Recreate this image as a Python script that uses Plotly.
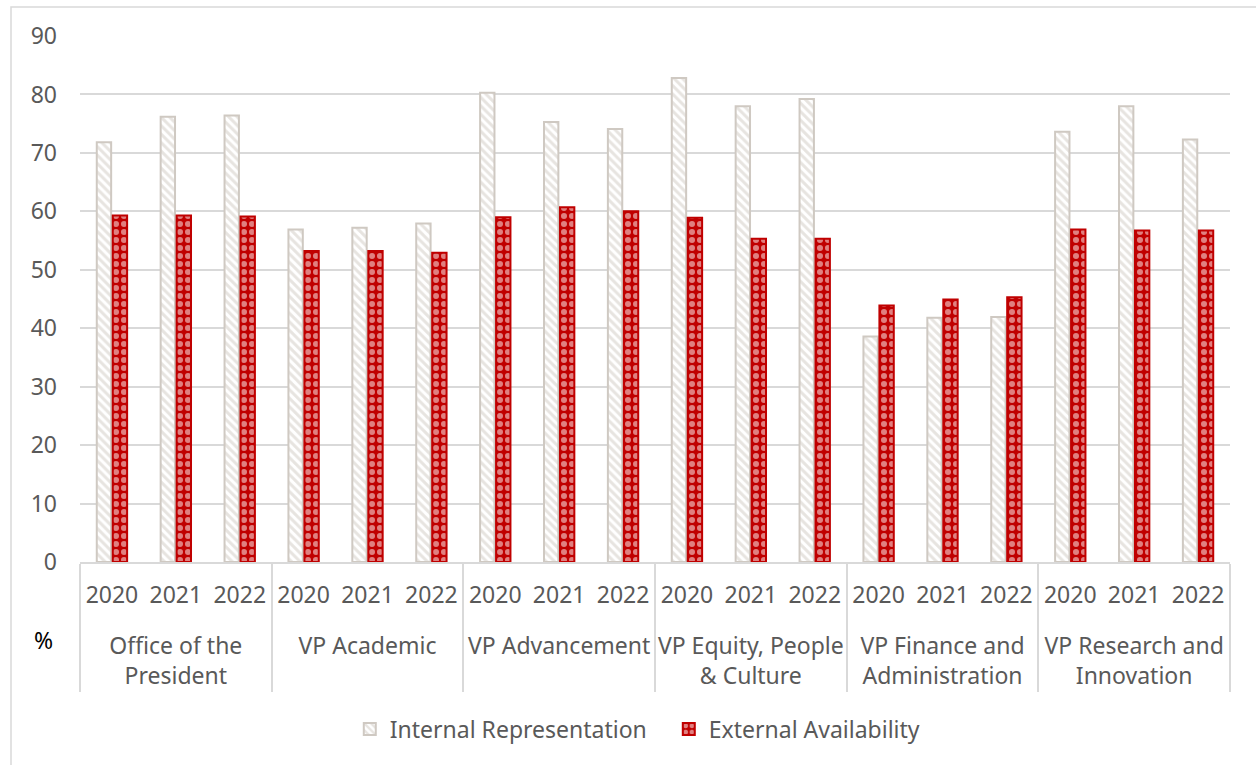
import plotly.graph_objects as go

# Departments (two-line labels where the name wraps) and reporting years
departments = [
    "Office of the<br>President",
    "VP Academic",
    "VP Advancement",
    "VP Equity, People<br>& Culture",
    "VP Finance and<br>Administration",
    "VP Research and<br>Innovation",
]
years = ["2020", "2021", "2022"]

# Percentages per department, in year order
internal_representation = [
    71.8, 76.2, 76.4,
    56.9, 57.2, 57.9,
    80.3, 75.3, 74.1,
    82.8, 78.0, 79.2,
    38.6, 41.8, 41.9,
    73.6, 78.0, 72.3,
]
external_availability = [
    59.3, 59.3, 59.1,
    53.2, 53.2, 52.9,
    59.0, 60.7, 60.0,
    58.9, 55.3, 55.3,
    43.9, 44.9, 45.3,
    56.9, 56.7, 56.7,
]

# A small trailing line under each year label opens space before the
# department row of the hierarchical axis.
year_labels = [y + "<br><span style='font-size:20px'>&nbsp;</span>" for y in years]

dept_axis = [d for d in departments for _ in years]
year_axis = [y for _ in departments for y in year_labels]

FONT = "Noto Sans"
TEXT = "#595959"
GRID = "#d9d9d9"
STRIPE = "#cfc9c2"
RED = "#c00000"
FS = 23

fig = go.Figure()
fig.add_trace(go.Bar(
    name="Internal Representation",
    x=[dept_axis, year_axis],
    y=internal_representation,
    marker=dict(
        color="white",
        line=dict(color=STRIPE, width=2),
        pattern=dict(shape="\\", fgcolor=STRIPE, bgcolor="white",
                     size=6, solidity=0.5),
    ),
))
fig.add_trace(go.Bar(
    name="External Availability",
    x=[dept_axis, year_axis],
    y=external_availability,
    marker=dict(
        color=RED,
        line=dict(color=RED, width=2),
        pattern=dict(shape=".", fgcolor="white", bgcolor=RED,
                     size=8, solidity=0.45),
    ),
))

fig.update_layout(
    width=1256, height=765,
    margin=dict(l=80, r=26, t=36, b=203),
    paper_bgcolor="white", plot_bgcolor="white",
    font=dict(family=FONT, size=FS, color=TEXT),
    barmode="group", bargap=0.5, bargroupgap=0.1,
    showlegend=True,
    legend=dict(orientation="h", x=0.2346, xanchor="left",
                y=-0.3175, yanchor="middle",
                entrywidth=274,
                font=dict(family=FONT, size=FS, color=TEXT),
                itemsizing="constant"),
    xaxis=dict(
        type="multicategory",
        showline=True, linecolor=GRID, linewidth=1.5,
        showgrid=False, ticks="",
        showdividers=True, dividercolor=GRID, dividerwidth=1.5,
        ticklabelstandoff=12,
        tickfont=dict(family=FONT, size=FS, color=TEXT),
    ),
    yaxis=dict(
        range=[0, 90], dtick=10, tick0=0,
        showgrid=True, gridcolor=GRID, gridwidth=1.5,
        zeroline=False, showline=False, ticks="",
        ticklabelstandoff=22,
        tickfont=dict(family=FONT, size=FS, color=TEXT),
    ),
    shapes=[
        # outer chart frame (top and left edges)
        dict(type="rect", xref="paper", yref="paper",
             x0=-0.06, x1=1.2, y0=-0.6, y1=1.0551,
             line=dict(color=GRID, width=1.5), fillcolor="rgba(0,0,0,0)",
             layer="below"),
    ],
    annotations=[
        dict(text="%", xref="paper", yref="paper", x=-0.032, y=-0.148,
             xanchor="center", yanchor="middle", showarrow=False,
             font=dict(family=FONT, size=FS, color="black")),
    ],
)

fig.write_html("out.html")
